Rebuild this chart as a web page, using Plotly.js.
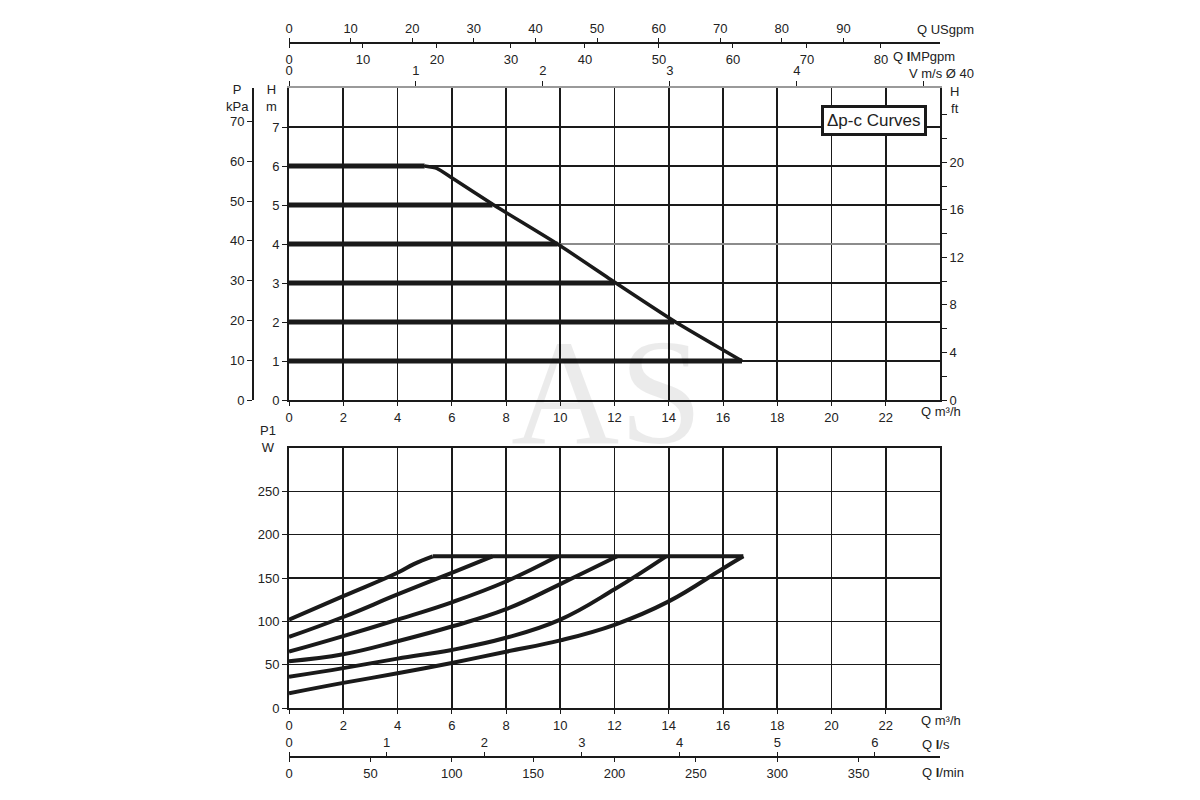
<!DOCTYPE html>
<html>
<head>
<meta charset="utf-8">
<script src="https://cdn.plot.ly/plotly-3.0.1.min.js"></script>
<style>
  body { margin: 0; background: #fff; }
  #chart { width: 1200px; height: 800px; }
</style>
</head>
<body>
<div id="chart"></div>
<script>
// Top chart: Δp-c head curves, Q in m³/h, H in m
const headSetpoints = [1, 2, 3, 4, 5, 6];
const headLineEndQ = [16.7, 14.2, 12.0, 9.9, 7.5, 5.0];
const maxHeadQ = [5.0, 5.45, 6.0, 7.55, 9.9, 12.05, 14.25, 16.7];
const maxHeadH = [6.0, 5.94, 5.7, 5.0, 4.0, 3.0, 2.0, 1.0];

// Bottom chart: P1 input power per setpoint, Q in m³/h, P1 in W
const powerQ6 = [0, 2, 4, 4.6, 5.3];
const powerW6 = [102, 129, 156, 166, 175];
const powerQ5 = [0, 2, 4, 6, 7.5];
const powerW5 = [82, 105, 131, 156, 175];
const powerQ4 = [0, 2, 4, 6, 8, 9.9];
const powerW4 = [65, 83, 102, 122, 146, 175];
const powerQ3 = [0, 2, 4, 6, 8, 10, 12.1];
const powerW3 = [54, 62, 77, 94, 114, 143, 175];
const powerQ2 = [0, 2, 4, 6, 8, 10, 12, 13.9];
const powerW2 = [36, 46, 57, 67, 81, 102, 137, 175];
const powerQ1 = [0, 2, 4, 6, 8, 10, 12, 14, 16, 16.75];
const powerW1 = [17, 29, 40, 52, 65, 78, 96, 123, 161, 175];
const maxPowerQ = [5.3, 16.75];
const maxPowerW = [175, 175];

// Tick values of the different scales
const flowTicks = [0, 2, 4, 6, 8, 10, 12, 14, 16, 18, 20, 22];
const headTicks = [0, 1, 2, 3, 4, 5, 6, 7];
const kpaTicks = [0, 10, 20, 30, 40, 50, 60, 70];
const ftTicks = [0, 2, 4, 6, 8, 10, 12, 14, 16, 18, 20, 22, 24];
const ftLabels = ['0', '', '4', '', '8', '', '12', '', '16', '', '20', '', ''];
const velocityTicks = [0, 1, 2, 3, 4, 5];
const velocityLabels = ['0', '1', '2', '3', '4', ''];
const usgpmTicks = [0, 10, 20, 30, 40, 50, 60, 70, 80, 90];
const impgpmTicks = [0, 10, 20, 30, 40, 50, 60, 70, 80];
const powerTicks = [0, 50, 100, 150, 200, 250];
const lpsTicks = [0, 1, 2, 3, 4, 5, 6];
const lpmTicks = [0, 50, 100, 150, 200, 250, 300, 350];

// unit conversions (from m³/h and m)
const Q_MAX = 24;
const H_MAX = 8;
const M3H_PER_USGPM = 0.22712;
const M3H_PER_IMPGPM = 0.27277;
const M3H_PER_MS = 4.68;   // velocity in DN40 pipe
const M3H_PER_LPS = 3.6;
const M3H_PER_LPM = 0.06;
const KPA_PER_M = 9.807;
const M_PER_FT = 0.3048;

const FONT = '"Liberation Sans", Arial, sans-serif';
const INK = '#1a1a1a';

let traces = [];

// horizontal Δp-c lines
headSetpoints.forEach((h, i) => {
  traces.push({
    x: [0, headLineEndQ[i]], y: [h, h],
    xaxis: 'x', yaxis: 'y', mode: 'lines',
    line: {color: INK, width: 5}
  });
});
traces.push({
  x: maxHeadQ, y: maxHeadH, xaxis: 'x', yaxis: 'y', mode: 'lines',
  line: {color: INK, width: 3.5, shape: 'spline', smoothing: 0.5}
});

// power curves
const powerQ = [powerQ1, powerQ2, powerQ3, powerQ4, powerQ5, powerQ6];
const powerW = [powerW1, powerW2, powerW3, powerW4, powerW5, powerW6];
for (let i = 0; i < powerQ.length; i++) {
  traces.push({
    x: powerQ[i], y: powerW[i], xaxis: 'x5', yaxis: 'y6', mode: 'lines',
    line: {color: INK, width: 4, shape: 'spline', smoothing: 1.2}
  });
}
traces.push({
  x: maxPowerQ, y: maxPowerW, xaxis: 'x5', yaxis: 'y6', mode: 'lines',
  line: {color: INK, width: 4}
});

// invisible anchors so the extra scales get drawn
const scalePairs = [
  ['x', 'y2'], ['x', 'y3'], ['x', 'y4'], ['x', 'y5'],
  ['x2', 'y'], ['x3', 'y'], ['x4', 'y'],
  ['x6', 'y6'], ['x7', 'y6']
];
scalePairs.forEach(p => {
  traces.push({
    x: [0], y: [0], xaxis: p[0], yaxis: p[1], mode: 'markers',
    marker: {size: 1, opacity: 0}, hoverinfo: 'skip'
  });
});

const xDom = [289 / 1200, 940 / 1200];
const topDom = [0.5, 0.89];
const botDom = [0.115, 0.44];
const tickFont = {family: FONT, size: 13, color: '#222'};

function flowAxis(anchor) {
  return {
    domain: xDom, anchor: anchor, range: [0, Q_MAX],
    tickvals: flowTicks, ticks: 'outside', ticklen: 4, tickcolor: INK,
    showgrid: true, gridcolor: INK, gridwidth: 1.6,
    showline: true, linecolor: INK, linewidth: 2, zeroline: false,
    tickfont: tickFont
  };
}

const layout = {
  width: 1200, height: 800, autosize: false,
  margin: {l: 0, r: 0, t: 0, b: 0},
  paper_bgcolor: '#fff', plot_bgcolor: 'rgba(0,0,0,0)',
  showlegend: false, hovermode: false,
  font: {family: FONT, color: '#222'},

  // ---- top chart ----
  xaxis: flowAxis('y'),
  yaxis: {
    domain: topDom, anchor: 'x', range: [0, H_MAX],
    tickvals: headTicks, ticks: 'outside', ticklen: 5, tickcolor: INK,
    showgrid: false, showline: true, linecolor: INK, linewidth: 2,
    zeroline: false, tickfont: tickFont
  },
  // black horizontal gridlines
  yaxis4: {
    domain: topDom, overlaying: 'y', anchor: 'x', range: [0, H_MAX],
    tickvals: [1, 2, 3, 5, 6, 7], showticklabels: false, ticks: '',
    showgrid: true, gridcolor: INK, gridwidth: 1.6, zeroline: false, showline: false
  },
  // the lighter 4 m gridline
  yaxis5: {
    domain: topDom, overlaying: 'y', anchor: 'x', range: [0, H_MAX],
    tickvals: [4], showticklabels: false, ticks: '',
    showgrid: true, gridcolor: '#8c8c8c', gridwidth: 1.6, zeroline: false, showline: false
  },
  // P kPa
  yaxis2: {
    domain: topDom, overlaying: 'y', anchor: 'free', position: 252 / 1200, side: 'left',
    range: [0, H_MAX * KPA_PER_M],
    tickvals: kpaTicks, ticks: 'outside', ticklen: 5, tickcolor: INK,
    showgrid: false, showline: true, linecolor: INK, linewidth: 1.6,
    zeroline: false, tickfont: tickFont
  },
  // H ft
  yaxis3: {
    domain: topDom, overlaying: 'y', anchor: 'x', side: 'right',
    range: [0, H_MAX / M_PER_FT],
    tickvals: ftTicks, ticktext: ftLabels, ticks: 'outside', ticklen: 5, tickcolor: INK,
    showgrid: false, showline: true, linecolor: INK, linewidth: 2,
    zeroline: false, tickfont: tickFont
  },
  // V m/s along the grey top line
  xaxis2: {
    domain: xDom, overlaying: 'x', anchor: 'y', side: 'top',
    range: [0, Q_MAX / M3H_PER_MS],
    tickvals: velocityTicks, ticktext: velocityLabels, ticks: 'outside', ticklen: 5, tickcolor: INK,
    showgrid: false, showline: true, linecolor: '#9a9a9a', linewidth: 2.5,
    zeroline: false, tickfont: tickFont
  },
  // Q USgpm
  xaxis3: {
    domain: xDom, overlaying: 'x', anchor: 'free', position: 1 - 43 / 800, side: 'top',
    range: [0, Q_MAX / M3H_PER_USGPM],
    tickvals: usgpmTicks, ticks: 'outside', ticklen: 4, tickcolor: INK,
    showgrid: false, showline: true, linecolor: INK, linewidth: 2,
    zeroline: false, tickfont: tickFont
  },
  // Q IMPgpm
  xaxis4: {
    domain: xDom, overlaying: 'x', anchor: 'free', position: 1 - 43 / 800, side: 'bottom',
    range: [0, Q_MAX / M3H_PER_IMPGPM],
    tickvals: impgpmTicks, ticks: 'outside', ticklen: 4, tickcolor: INK,
    showgrid: false, showline: false, zeroline: false, tickfont: tickFont
  },

  // ---- bottom chart ----
  xaxis5: Object.assign(flowAxis('y6'), {mirror: true}),
  yaxis6: {
    domain: botDom, anchor: 'x5', range: [0, 300],
    tickvals: powerTicks, ticks: 'outside', ticklen: 5, tickcolor: INK,
    showgrid: true, gridcolor: INK, gridwidth: 1.6,
    showline: true, mirror: true, linecolor: INK, linewidth: 2,
    zeroline: false, tickfont: tickFont
  },
  // Q l/s
  xaxis6: {
    domain: xDom, overlaying: 'x5', anchor: 'free', position: 1 - 757 / 800, side: 'top',
    range: [0, Q_MAX / M3H_PER_LPS],
    tickvals: lpsTicks, ticks: 'outside', ticklen: 4, tickcolor: INK,
    showgrid: false, showline: true, linecolor: INK, linewidth: 2,
    zeroline: false, tickfont: tickFont
  },
  // Q l/min
  xaxis7: {
    domain: xDom, overlaying: 'x5', anchor: 'free', position: 1 - 757 / 800, side: 'bottom',
    range: [0, Q_MAX / M3H_PER_LPM],
    tickvals: lpmTicks, ticks: 'outside', ticklen: 4, tickcolor: INK,
    showgrid: false, showline: false, zeroline: false, tickfont: tickFont
  },

  annotations: []
};

// axis unit labels placed in pixels
function label(text, px, py, xanchor, size) {
  layout.annotations.push({
    text: text, x: px / 1200, y: 1 - py / 800, xref: 'paper', yref: 'paper',
    xanchor: xanchor || 'center', yanchor: 'middle', showarrow: false,
    font: {family: FONT, size: size || 13, color: '#222'}
  });
}

// faint watermark
layout.annotations.push({
  text: 'AS', x: 607 / 1200, y: 1 - 392 / 800, xref: 'paper', yref: 'paper',
  xanchor: 'center', yanchor: 'middle',
  showarrow: false, font: {family: '"Liberation Serif", serif', size: 150, color: 'rgba(0,0,0,0.08)'}
});

label('P<br>kPa', 237, 98);
label('H<br>m', 271, 98);
label('H<br>ft', 948, 100, 'left');
label('Q USgpm', 976, 30, 'right');
label('Q <b>I</b>MPgpm', 891, 56, 'left');
label('V m/s Ø 40', 976, 73, 'right');
label('Q m³/h', 919, 411, 'left');
label('P1<br>W', 268, 439);
label('Q m³/h', 919, 720, 'left');
label('Q <b>l</b>/s', 920, 744, 'left');
label('Q <b>l</b>/min', 920, 772, 'left');

layout.annotations.push({
  text: 'Δp-c Curves', x: 874 / 1200, y: 1 - 120 / 800, xref: 'paper', yref: 'paper',
  xanchor: 'center', yanchor: 'middle',
  showarrow: false, bgcolor: '#fff', bordercolor: INK, borderwidth: 3, borderpad: 3,
  font: {family: FONT, size: 17, color: '#222'}
});

Plotly.newPlot('chart', traces, layout, {staticPlot: true, displayModeBar: false});
</script>
</body>
</html>
